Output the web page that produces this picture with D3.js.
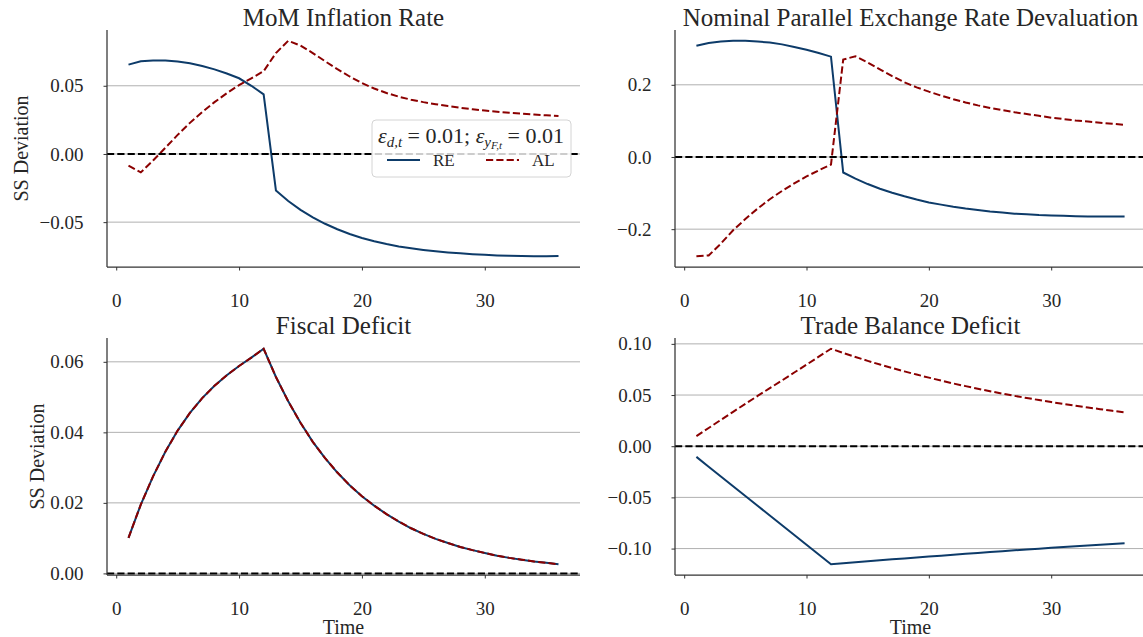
<!DOCTYPE html>
<html>
<head>
<meta charset="utf-8">
<script src="https://cdn.jsdelivr.net/npm/d3@7"></script>
<style>
  body { margin: 0; background: #fff; }
  svg { display: block; font-family: "Liberation Serif", "DejaVu Serif", serif; }
  svg text { font-family: "Liberation Serif", "DejaVu Serif", serif; }
  .grid line { stroke: #b0b0b0; stroke-width: 1; }
</style>
</head>
<body>
<svg id="vis" width="1143" height="637"></svg>
<script>
// impulse responses, t = 1..36
const time = d3.range(1, 37);

const inflRE = [0.0655, 0.0680, 0.0686, 0.0685, 0.0678, 0.0665, 0.0645, 0.0620, 0.0590, 0.0555, 0.0500, 0.0437,
    -0.0268, -0.0345, -0.0410, -0.0465, -0.0512, -0.0552, -0.0587, -0.0616, -0.0640, -0.0661, -0.0678, -0.0692,
    -0.0704, -0.0714, -0.0722, -0.0729, -0.0735, -0.0740, -0.0744, -0.0747, -0.0749, -0.0750, -0.0750, -0.0749];
const inflAL = [-0.0086, -0.0135, -0.0048, 0.0045, 0.0140, 0.0228, 0.0308, 0.0380, 0.0445, 0.0505, 0.0555, 0.0607,
    0.0740, 0.0830, 0.0795, 0.0740, 0.0680, 0.0622, 0.0568, 0.0520, 0.0480, 0.0447, 0.0420, 0.0398,
    0.0380, 0.0365, 0.0351, 0.0339, 0.0328, 0.0318, 0.0310, 0.0302, 0.0295, 0.0289, 0.0283, 0.0278];

const devalRE = [0.308, 0.316, 0.320, 0.322, 0.322, 0.320, 0.317, 0.312, 0.305, 0.297, 0.288, 0.278,
    -0.043, -0.060, -0.075, -0.088, -0.099, -0.109, -0.118, -0.126, -0.132, -0.138, -0.143, -0.147,
    -0.151, -0.154, -0.157, -0.159, -0.161, -0.162, -0.163, -0.164, -0.165, -0.165, -0.165, -0.165];
const devalAL = [-0.275, -0.273, -0.240, -0.203, -0.172, -0.143, -0.117, -0.094, -0.073, -0.054, -0.037, -0.021,
    0.270, 0.279, 0.262, 0.243, 0.224, 0.207, 0.193, 0.181, 0.170, 0.160, 0.151, 0.143,
    0.136, 0.130, 0.124, 0.119, 0.114, 0.109, 0.105, 0.101, 0.098, 0.095, 0.092, 0.089];

const fiscalRE = [0.0101, 0.0195, 0.0275, 0.0345, 0.0405, 0.0455, 0.0497, 0.0532, 0.0562, 0.0588, 0.0612, 0.0637,
    0.0557, 0.0488, 0.0427, 0.0373, 0.0327, 0.0286, 0.0250, 0.0219, 0.0192, 0.0168, 0.0147, 0.0128,
    0.0112, 0.0098, 0.0086, 0.0075, 0.0066, 0.0058, 0.0050, 0.0044, 0.0039, 0.0034, 0.0030, 0.0026];
const fiscalAL = [0.0101, 0.0195, 0.0275, 0.0345, 0.0405, 0.0455, 0.0497, 0.0532, 0.0562, 0.0588, 0.0612, 0.0637,
    0.0557, 0.0488, 0.0427, 0.0373, 0.0327, 0.0286, 0.0250, 0.0219, 0.0192, 0.0168, 0.0147, 0.0128,
    0.0112, 0.0098, 0.0086, 0.0075, 0.0066, 0.0058, 0.0050, 0.0044, 0.0039, 0.0034, 0.0030, 0.0026];

const tradeRE = [-0.0104, -0.0200, -0.0295, -0.0391, -0.0486, -0.0582, -0.0677, -0.0772, -0.0867, -0.0963, -0.1058, -0.1153,
    -0.1143, -0.1133, -0.1124, -0.1114, -0.1105, -0.1096, -0.1087, -0.1078, -0.1069, -0.1060, -0.1051, -0.1043,
    -0.1034, -0.1026, -0.1017, -0.1009, -0.1001, -0.0993, -0.0985, -0.0977, -0.0969, -0.0962, -0.0955, -0.0948];
const tradeAL = [0.0098, 0.0178, 0.0257, 0.0336, 0.0414, 0.0491, 0.0567, 0.0643, 0.0720, 0.0797, 0.0875, 0.0952,
    0.0911, 0.0872, 0.0834, 0.0798, 0.0764, 0.0731, 0.0700, 0.0670, 0.0641, 0.0613, 0.0587, 0.0562,
    0.0537, 0.0514, 0.0492, 0.0471, 0.0451, 0.0431, 0.0413, 0.0395, 0.0378, 0.0362, 0.0346, 0.0331];

const titles = ["MoM Inflation Rate", "Nominal Parallel Exchange Rate Devaluation", "Fiscal Deficit", "Trade Balance Deficit"];
const xTicks = [0, 10, 20, 30];
const yTicksInfl = [-0.05, 0, 0.05];
const yTicksDeval = [-0.2, 0, 0.2];
const yTicksFiscal = [0, 0.02, 0.04, 0.06];
const yTicksTrade = [-0.1, -0.05, 0, 0.05, 0.1];

const RE_COLOR = "#0d3b69";
const AL_COLOR = "#8b0000";
const FONT = 19;
const TEXT_COLOR = "#262626";

const svg = d3.select("#vis");

// axes boxes (pixel extents)
const panels = [
    { title: titles[0], re: inflRE, al: inflAL, ticks: yTicksInfl, fmt: ".2f", x0: 107, x1: 580, y0: 30, y1: 267, ylabel: true, xlabel: false },
    { title: titles[1], re: devalRE, al: devalAL, ticks: yTicksDeval, fmt: ".1f", x0: 675, x1: 1146, y0: 30, y1: 267, ylabel: false, xlabel: false },
    { title: titles[2], re: fiscalRE, al: fiscalAL, ticks: yTicksFiscal, fmt: ".2f", x0: 107, x1: 580, y0: 338, y1: 575, ylabel: true, xlabel: true },
    { title: titles[3], re: tradeRE, al: tradeAL, ticks: yTicksTrade, fmt: ".2f", x0: 675, x1: 1146, y0: 338, y1: 575, ylabel: false, xlabel: true }
];

function minus(s) {
    return s.replace("-", "\u2212");
}

panels.forEach(function (p, i) {
    var g = svg.append("g").attr("class", "panel");

    // matplotlib style 5% margins
    var tx = d3.extent(time);
    var padX = (tx[1] - tx[0]) * 0.05;
    var x = d3.scaleLinear().domain([tx[0] - padX, tx[1] + padX]).range([p.x0, p.x1]);

    var all = p.re.concat(p.al);
    var ty = d3.extent(all);
    var padY = (ty[1] - ty[0]) * 0.05;
    var y = d3.scaleLinear().domain([ty[0] - padY, ty[1] + padY]).range([p.y1, p.y0]);

    // horizontal grid
    g.append("g")
        .attr("class", "grid")
        .selectAll("line")
        .data(p.ticks)
        .enter().append("line")
        .attr("x1", p.x0).attr("x2", p.x1)
        .attr("y1", function (d) { return y(d); })
        .attr("y2", function (d) { return y(d); });

    var line = d3.line()
        .x(function (d, j) { return x(time[j]); })
        .y(function (d) { return y(d); });

    g.append("path")
        .datum(p.re)
        .attr("d", line)
        .attr("fill", "none")
        .attr("stroke", RE_COLOR)
        .attr("stroke-width", 2);

    g.append("path")
        .datum(p.al)
        .attr("d", line)
        .attr("fill", "none")
        .attr("stroke", AL_COLOR)
        .attr("stroke-width", 2)
        .attr("stroke-dasharray", "7.2,3.1");

    // zero line
    g.append("line")
        .attr("x1", p.x0).attr("x2", p.x1)
        .attr("y1", y(0)).attr("y2", y(0))
        .attr("stroke", "#000")
        .attr("stroke-width", 2)
        .attr("stroke-dasharray", "7.2,3.1");

    // axes
    var xAxis = d3.axisBottom(x).tickValues(xTicks).tickSize(3.5).tickPadding(23).tickFormat(d3.format("d"));
    var yAxis = d3.axisLeft(y).tickValues(p.ticks).tickSize(3.5).tickPadding(20)
        .tickFormat(function (d) { return minus(d3.format(p.fmt)(d)); });

    var gx = g.append("g").attr("transform", "translate(0," + p.y1 + ")").call(xAxis);
    var gy = g.append("g").attr("transform", "translate(" + p.x0 + ",0)").call(yAxis);

    [gx, gy].forEach(function (a) {
        a.attr("font-family", null).attr("font-size", null);
        a.select(".domain").attr("stroke", "#333").attr("stroke-width", 1.25)
            .attr("d", a === gx ? "M" + p.x0 + ",0H" + p.x1 : "M0," + p.y0 + "V" + p.y1);
        a.selectAll(".tick line").attr("stroke", "#333").attr("stroke-width", 1);
        a.selectAll(".tick text")
            .attr("fill", TEXT_COLOR)
            .style("font-size", FONT + "px");
    });

    // title
    g.append("text")
        .attr("x", (p.x0 + p.x1) / 2)
        .attr("y", p.y0 - 4)
        .attr("text-anchor", "middle")
        .style("font-size", "25px")
        .attr("fill", TEXT_COLOR)
        .text(p.title);

    if (p.ylabel) {
        var lx = i === 0 ? 21 : 37;
        g.append("text")
            .attr("transform", "translate(" + lx + "," + (p.y0 + p.y1) / 2 + ") rotate(-90)")
            .attr("dy", "0.35em")
            .attr("text-anchor", "middle")
            .style("font-size", "20px")
            .attr("fill", TEXT_COLOR)
            .text("SS Deviation");
    }
    if (p.xlabel) {
        g.append("text")
            .attr("x", (p.x0 + p.x1) / 2)
            .attr("y", p.y1 + 59)
            .attr("text-anchor", "middle")
            .style("font-size", "20px")
            .attr("fill", TEXT_COLOR)
            .text("Time");
    }
});

// legend in the first panel
var lg = svg.append("g").attr("class", "legend");
lg.append("rect")
    .attr("x", 372).attr("y", 120)
    .attr("width", 199).attr("height", 57)
    .attr("rx", 4)
    .attr("fill", "#fff").attr("fill-opacity", 0.8)
    .attr("stroke", "#d4d4d4");

var lt = lg.append("text")
    .attr("x", 471).attr("y", 143)
    .attr("text-anchor", "middle")
    .style("font-size", "22px")
    .attr("fill", TEXT_COLOR);
lt.append("tspan").attr("font-style", "italic").text("\u03b5");
lt.append("tspan").attr("font-style", "italic").style("font-size", "15px").attr("dy", 4).text("d,t");
lt.append("tspan").attr("dy", -4).text(" = 0.01; ");
lt.append("tspan").attr("font-style", "italic").text("\u03b5");
lt.append("tspan").attr("font-style", "italic").style("font-size", "15px").attr("dy", 4).text("y");
lt.append("tspan").attr("font-style", "italic").style("font-size", "11px").attr("dy", 2).text("F,t");
lt.append("tspan").attr("dy", -6).text(" = 0.01");

var entries = [
    { name: "RE", color: RE_COLOR, dash: null, x: 387 },
    { name: "AL", color: AL_COLOR, dash: "7.2,3.1", x: 486 }
];
entries.forEach(function (e) {
    lg.append("line")
        .attr("x1", e.x).attr("x2", e.x + 33)
        .attr("y1", 160).attr("y2", 160)
        .attr("stroke", e.color)
        .attr("stroke-width", 2)
        .attr("stroke-dasharray", e.dash);
    lg.append("text")
        .attr("x", e.x + 46).attr("y", 166)
        .style("font-size", "17px")
        .attr("fill", TEXT_COLOR)
        .text(e.name);
});
</script>
</body>
</html>
